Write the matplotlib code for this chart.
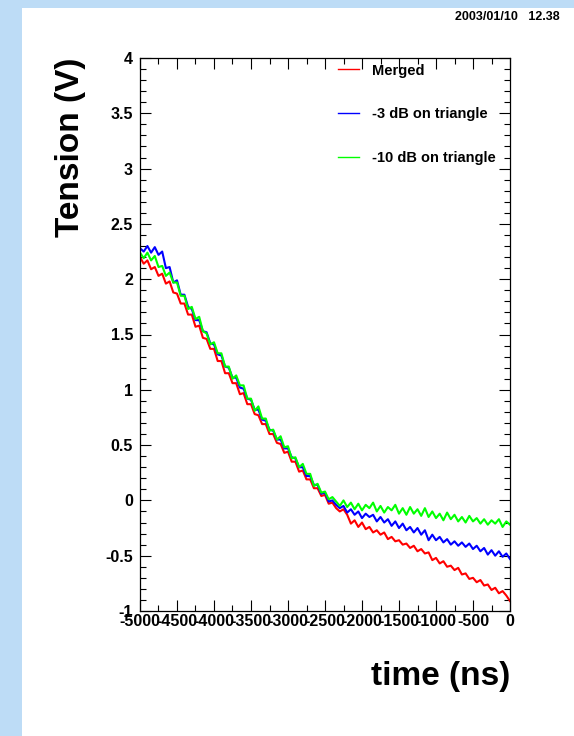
import numpy as np
import matplotlib
matplotlib.use("Agg")
import matplotlib.pyplot as plt
from matplotlib.patches import Rectangle
from matplotlib.ticker import MultipleLocator, FixedFormatter, FixedLocator

# ---------------- data ----------------
time_ns = list(range(-5000, 1, 50))

merged = [2.20, 2.14, 2.17, 2.09, 2.11, 2.03, 2.05, 1.96, 1.98, 1.88,
          1.87, 1.78, 1.78, 1.68, 1.68, 1.57, 1.58, 1.47, 1.46, 1.37,
          1.37, 1.26, 1.26, 1.15, 1.15, 1.06, 1.06, 0.96, 0.97, 0.87,
          0.87, 0.78, 0.77, 0.69, 0.69, 0.60, 0.60, 0.52, 0.51, 0.43,
          0.44, 0.35, 0.35, 0.26, 0.27, 0.19, 0.19, 0.11, 0.11, 0.04,
          0.05, -0.03, -0.02,
          -0.07, -0.10, -0.08, -0.13, -0.21, -0.18, -0.24, -0.20, -0.26, -0.24,
          -0.29, -0.27, -0.31, -0.29, -0.35, -0.33, -0.37, -0.36, -0.40, -0.39,
          -0.43, -0.41, -0.46, -0.44, -0.48, -0.47, -0.54, -0.52, -0.57, -0.55,
          -0.60, -0.59, -0.63, -0.61, -0.67, -0.66, -0.71, -0.70, -0.74, -0.72,
          -0.77, -0.76, -0.81, -0.79, -0.84, -0.82, -0.86, -0.91]

minus3dB = [2.28, 2.25, 2.30, 2.24, 2.29, 2.22, 2.25, 2.10, 2.11, 1.97,
            1.99, 1.86, 1.86, 1.75, 1.73, 1.63, 1.63, 1.53, 1.52, 1.42,
            1.41, 1.32, 1.31, 1.21, 1.20, 1.11, 1.11, 1.02, 1.01, 0.92,
            0.91, 0.82, 0.82, 0.73, 0.72, 0.64, 0.63, 0.55, 0.55, 0.47,
            0.47, 0.39, 0.38, 0.30, 0.30, 0.22, 0.22, 0.14, 0.14, 0.06,
            0.07, -0.01, 0.00,
            -0.04, -0.07, -0.05, -0.11, -0.08, -0.13, -0.10, -0.16, -0.12, -0.15,
            -0.13, -0.19, -0.15, -0.20, -0.17, -0.23, -0.19, -0.25, -0.21, -0.27,
            -0.24, -0.29, -0.25, -0.31, -0.27, -0.36, -0.31, -0.36, -0.33, -0.38,
            -0.35, -0.40, -0.37, -0.41, -0.38, -0.42, -0.39, -0.44, -0.41, -0.46,
            -0.43, -0.49, -0.45, -0.50, -0.46, -0.51, -0.48, -0.53]

minus10dB = [2.24, 2.19, 2.24, 2.17, 2.21, 2.11, 2.12, 2.03, 2.06, 1.97,
             1.97, 1.85, 1.85, 1.73, 1.75, 1.64, 1.66, 1.53, 1.51, 1.41,
             1.43, 1.33, 1.33, 1.21, 1.21, 1.10, 1.13, 1.04, 1.04, 0.92,
             0.92, 0.81, 0.85, 0.74, 0.74, 0.63, 0.64, 0.55, 0.58, 0.48,
             0.49, 0.38, 0.39, 0.30, 0.33, 0.24, 0.24, 0.13, 0.15, 0.07,
             0.08, 0.01, 0.03,
             -0.01, -0.05, 0.00, -0.06, -0.02, -0.08, -0.03, -0.09, -0.04, -0.07,
             -0.02, -0.10, -0.05, -0.11, -0.06, -0.09, -0.04, -0.12, -0.07, -0.13,
             -0.06, -0.12, -0.08, -0.14, -0.07, -0.15, -0.10, -0.16, -0.12, -0.18,
             -0.11, -0.17, -0.13, -0.19, -0.15, -0.20, -0.14, -0.19, -0.16, -0.21,
             -0.17, -0.22, -0.18, -0.21, -0.17, -0.24, -0.19, -0.22]

series_labels = ["Merged", "-3 dB on triangle", "-10 dB on triangle"]
series_colors = ["#ff0000", "#0000ff", "#00ff00"]

x_ticks = list(range(-5000, 1, 500))
x_tick_labels = ["-5000", "-4500", "-4000", "-3500", "-3000", "-2500",
                 "-2000", "-1500", "-1000", "-500", "0"]
y_ticks = [-1, -0.5, 0, 0.5, 1, 1.5, 2, 2.5, 3, 3.5, 4]
y_tick_labels = ["-1", "-0.5", "0", "0.5", "1", "1.5", "2", "2.5", "3", "3.5", "4"]

# ---------------- figure ----------------
plt.rcParams['font.family'] = ['Liberation Sans', 'DejaVu Sans']
plt.rcParams['font.weight'] = 'bold'

W, H = 574, 736
fig = plt.figure(figsize=(W / 100, H / 100), dpi=100)
fig.patch.set_facecolor("#bddcf6")
fig.add_artist(Rectangle((22 / W, 0), 1 - 22 / W, 1 - 8 / H,
                         transform=fig.transFigure, facecolor="white",
                         edgecolor="none", zorder=0))

ax = fig.add_axes([140 / W, 1 - 611 / H, 370 / W, 553 / H])
ax.set_facecolor("white")

for vals, lab, col in zip([merged, minus3dB, minus10dB], series_labels, series_colors):
    ax.plot(time_ns, vals, color=col, lw=1.5, label=lab)

ax.set_xlim(-5000, 0)
ax.set_ylim(-1, 4)

ax.xaxis.set_major_locator(FixedLocator(x_ticks))
ax.xaxis.set_major_formatter(FixedFormatter(x_tick_labels))
ax.xaxis.set_minor_locator(MultipleLocator(250))
ax.yaxis.set_major_locator(FixedLocator(y_ticks))
ax.yaxis.set_major_formatter(FixedFormatter(y_tick_labels))
ax.yaxis.set_minor_locator(MultipleLocator(0.1))

ax.tick_params(which='both', direction='in', top=True, right=True,
               color='black', width=0.8)
ax.tick_params(which='major', length=8)
ax.tick_params(which='minor', length=4.5)
ax.tick_params(axis='x', which='major', labelsize=11.5, pad=2)
ax.tick_params(axis='y', which='major', labelsize=11.5, pad=5)
for lbl in ax.get_xticklabels() + ax.get_yticklabels():
    lbl.set_fontweight('bold')
for sp in ax.spines.values():
    sp.set_linewidth(0.9)

fig.text(70 / W, 1 - 58 / H, "Tension (V)", rotation=90, fontsize=24,
         fontweight='bold', ha='center', va='top')
fig.text(510 / W, 1 - 676 / H, "time (ns)", fontsize=24,
         fontweight='bold', ha='right', va='center')
fig.text(560 / W, 1 - 17 / H, "2003/01/10   12.38", fontsize=9,
         fontweight='bold', ha='right', va='center')

leg = ax.legend(loc='upper left', bbox_to_anchor=((338 - 140) / 370, 0.990),
                frameon=False, fontsize=10.5, handlelength=1.45,
                handletextpad=0.85, labelspacing=2.05, borderpad=0,
                borderaxespad=0)
for line in leg.get_lines():
    line.set_linewidth(1.0)
for t in leg.get_texts():
    t.set_fontweight('bold')

fig.savefig("out.png", dpi=100, facecolor=fig.get_facecolor())
